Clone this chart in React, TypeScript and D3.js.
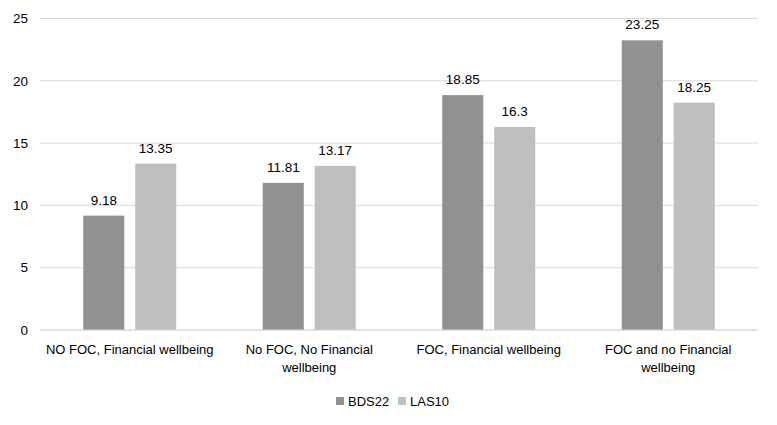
import React from "react";
import * as d3 from "d3";

const categories = [
  ["NO FOC, Financial wellbeing"],
  ["No FOC, No Financial", "wellbeing"],
  ["FOC, Financial wellbeing"],
  ["FOC and no Financial", "wellbeing"],
];
const seriesNames = ["BDS22", "LAS10"];
const bds22 = [9.18, 11.81, 18.85, 23.25];
const las10 = [13.35, 13.17, 16.3, 18.25];
const yTicks = [0, 5, 10, 15, 20, 25];
const colors = ["#919191", "#bfbfbf"];

export default function App() {
  const W = 777, H = 425;
  const left = 40, right = 758, top = 18.5, bottom = 330;
  const font = "'Liberation Sans', Arial, sans-serif";
  const x0 = d3.scaleBand<number>().domain(d3.range(categories.length)).range([left, right]);
  const x1 = d3.scaleBand<string>().domain(seriesNames).range([-46.5, 46.5]).paddingInner(0.21);
  const y = d3.scaleLinear().domain([0, 25]).range([bottom, top]);
  const data = [bds22, las10];

  return (
    <svg width={W} height={H} style={{ position: "absolute", left: 0, top: 0, background: "#fff" }} fontFamily={font}>
      {yTicks.map((t) => (
        <g key={t}>
          <line x1={left} x2={right} y1={y(t)} y2={y(t)} stroke="#d9d9d9" strokeWidth={1} />
          <text x={28} y={y(t)} dy="0.35em" textAnchor="end" fontSize={13.5} fill="#000">{t}</text>
        </g>
      ))}
      {categories.map((lines, i) => {
        const cx = (x0(i) as number) + x0.bandwidth() / 2;
        return (
          <g key={i}>
            {seriesNames.map((s, si) => {
              const v = data[si][i];
              const bx = cx + (x1(s) as number);
              return (
                <g key={s}>
                  <rect x={bx} y={y(v)} width={x1.bandwidth()} height={y(0) - y(v)} fill={colors[si]} />
                  <text x={bx + x1.bandwidth() / 2} y={y(v) - 11} textAnchor="middle" fontSize={13.5} fill="#000">{v}</text>
                </g>
              );
            })}
            {lines.map((l, li) => (
              <text key={li} x={cx} y={354 + li * 18} textAnchor="middle" fontSize={13} fill="#000">{l}</text>
            ))}
          </g>
        );
      })}
      <line x1={left} x2={right} y1={y(0)} y2={y(0)} stroke="#d9d9d9" strokeWidth={1} />
      {seriesNames.map((s, si) => {
        const lx = 336 + si * 62;
        return (
          <g key={s}>
            <rect x={lx} y={397} width={8} height={8} fill={colors[si]} />
            <text x={lx + 12} y={401} dy="0.35em" fontSize={13} fill="#000">{s}</text>
          </g>
        );
      })}
    </svg>
  );
}
